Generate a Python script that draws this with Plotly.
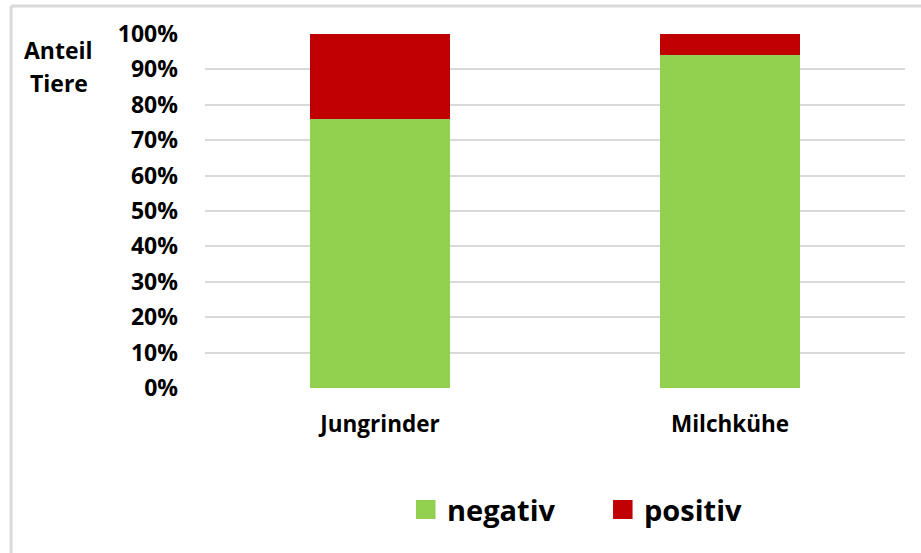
import plotly.graph_objects as go

# Anteil der Tiere mit negativem / positivem Befund
categories = ["Jungrinder", "Milchkühe"]
negativ = [0.76, 0.94]
positiv = [0.24, 0.06]
y_ticks = [i / 10 for i in range(11)]
y_tick_labels = [f"{i * 10}%" for i in range(11)]

GREEN = "#92d050"
RED = "#c00000"
GRID = "#d9d9d9"
FONT = "Open Sans"

series = [("negativ", negativ, GREEN), ("positiv", positiv, RED)]

fig = go.Figure()
for name, vals, col in series:
    fig.add_trace(go.Bar(name=name, x=categories, y=vals,
                         marker=dict(color=col, line=dict(width=0))))

# Legend drawn as large colour squares with labels under the plot
legend_x = [0.3014, 0.5829]
shapes = []
annotations = []
for (name, _, col), lx in zip(series, legend_x):
    shapes.append(dict(type="rect", xref="paper", yref="paper",
                       x0=lx, x1=lx + 0.0279, y0=-0.370, y1=-0.3164,
                       fillcolor=col, line=dict(width=0)))
    annotations.append(dict(text=name, xref="paper", yref="paper",
                            x=lx + 0.041, y=-0.343, xanchor="left", yanchor="middle",
                            showarrow=False,
                            font=dict(size=29, family=FONT, weight=700)))

# Axis title in two lines at the top left
for word, wy in (("Anteil", 0.955), ("Tiere", 0.862)):
    annotations.append(dict(text=word, xref="paper", yref="paper",
                            x=-0.209, y=wy, xanchor="center", yanchor="middle",
                            showarrow=False,
                            font=dict(size=23, family=FONT, weight=700)))

# Light frame along the top and left
shapes += [
    dict(type="line", xref="paper", yref="paper",
         x0=-0.277, x1=1.03, y0=1.079, y1=1.079,
         line=dict(color=GRID, width=3)),
    dict(type="line", xref="paper", yref="paper",
         x0=-0.277, x1=-0.277, y0=1.079, y1=-0.5,
         line=dict(color=GRID, width=3)),
]

fig.update_layout(
    barmode="stack",
    bargap=0.6,
    width=921, height=553,
    margin=dict(l=205, r=16, t=34, b=165, autoexpand=False),
    paper_bgcolor="white",
    plot_bgcolor="white",
    font=dict(family=FONT, color="black", size=20, weight=700),
    showlegend=False,
    xaxis=dict(showgrid=False, showline=False, ticks="",
               tickfont=dict(size=22.5, family=FONT, weight=700),
               ticklabelstandoff=20),
    yaxis=dict(range=[0, 1], tickvals=y_ticks, ticktext=y_tick_labels,
               showgrid=True, gridcolor=GRID, gridwidth=2,
               zeroline=False, showline=False, ticks="",
               ticklabelstandoff=26,
               tickfont=dict(size=23, family=FONT, weight=700)),
    annotations=annotations,
    shapes=shapes,
)

fig.write_html("out.html")
